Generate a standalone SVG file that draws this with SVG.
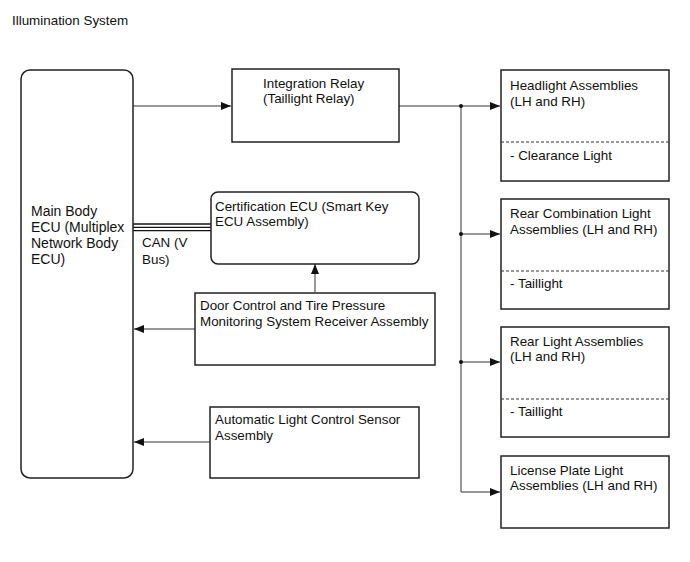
<svg xmlns="http://www.w3.org/2000/svg" width="690" height="562" viewBox="0 0 690 562">
<defs>
<style>
.box{fill:#fff;stroke:#222;stroke-width:1.5}
.t{font-family:"Liberation Sans",Arial,sans-serif;font-size:13.4px;fill:#111}
.ln{stroke:#333;stroke-width:1;fill:none}
.dash{stroke:#333;stroke-width:1;stroke-dasharray:3,2}
</style>
<marker id="ah" viewBox="0 0 10 8" refX="10" refY="4" markerWidth="10" markerHeight="8" markerUnits="userSpaceOnUse" orient="auto">
<path d="M0,0 L10,4 L0,8 z" fill="#111"/>
</marker>
</defs>
<rect width="690" height="562" fill="#fff"/>
<text class="t" x="12" y="25">Illumination System</text>
<g id="connectors">
<line class="ln" x1="133" y1="106" x2="231" y2="106" marker-end="url(#ah)"/>
<line class="ln" x1="399" y1="106" x2="500" y2="106" marker-end="url(#ah)"/>
<line class="ln" x1="461" y1="106" x2="461" y2="492"/>
<line class="ln" x1="461" y1="234" x2="500" y2="234" marker-end="url(#ah)"/>
<line class="ln" x1="461" y1="362" x2="500" y2="362" marker-end="url(#ah)"/>
<line class="ln" x1="461" y1="492" x2="500" y2="492" marker-end="url(#ah)"/>
<circle cx="461" cy="106" r="2" fill="#111"/>
<circle cx="461" cy="234" r="2" fill="#111"/>
<circle cx="461" cy="362" r="2" fill="#111"/>
<line x1="133" y1="224" x2="211" y2="224" stroke="#111" stroke-width="1.3"/>
<line x1="133" y1="227.3" x2="211" y2="227.3" stroke="#111" stroke-width="1.3"/>
<line x1="133" y1="230.6" x2="211" y2="230.6" stroke="#111" stroke-width="1.3"/>
<line class="ln" x1="315" y1="292" x2="315" y2="264" marker-end="url(#ah)"/>
<line class="ln" x1="195" y1="329" x2="134" y2="329" marker-end="url(#ah)"/>
<line class="ln" x1="210" y1="442" x2="134" y2="442" marker-end="url(#ah)"/>
<text class="t" x="142" y="247">CAN (V</text>
<text class="t" x="142" y="264">Bus)</text>
</g>
<g id="main-ecu">
<rect class="box" x="21" y="70" width="112" height="408" rx="9"/>
<text class="t" x="31" y="216" style="font-size:14px">Main Body</text>
<text class="t" x="31" y="232" style="font-size:14px">ECU (Multiplex</text>
<text class="t" x="31" y="248" style="font-size:14px">Network Body</text>
<text class="t" x="31" y="264" style="font-size:14px">ECU)</text>
</g>
<g id="integration-relay">
<rect class="box" x="232" y="69" width="167" height="73"/>
<text class="t" x="263" y="88">Integration Relay</text>
<text class="t" x="263" y="103">(Taillight Relay)</text>
</g>
<g id="certification-ecu">
<rect class="box" x="211" y="192" width="208" height="72" rx="7"/>
<text class="t" x="215" y="211">Certification ECU (Smart Key</text>
<text class="t" x="215" y="226">ECU Assembly)</text>
</g>
<g id="door-control">
<rect class="box" x="195" y="293" width="240" height="72"/>
<text class="t" x="200" y="310">Door Control and Tire Pressure</text>
<text class="t" x="200" y="326">Monitoring System Receiver Assembly</text>
</g>
<g id="auto-light-sensor">
<rect class="box" x="210" y="407" width="209" height="71"/>
<text class="t" x="215" y="424">Automatic Light Control Sensor</text>
<text class="t" x="215" y="440">Assembly</text>
</g>
<g id="headlight">
<rect class="box" x="501" y="70" width="168" height="111"/>
<line class="dash" x1="501" y1="142" x2="669" y2="142"/>
<text class="t" x="510" y="90">Headlight Assemblies</text>
<text class="t" x="510" y="106">(LH and RH)</text>
<text class="t" x="510" y="160">- Clearance Light</text>
</g>
<g id="rear-combination">
<rect class="box" x="501" y="199" width="168" height="110"/>
<line class="dash" x1="501" y1="271" x2="669" y2="271"/>
<text class="t" x="510" y="218">Rear Combination Light</text>
<text class="t" x="510" y="234">Assemblies (LH and RH)</text>
<text class="t" x="510" y="288">- Taillight</text>
</g>
<g id="rear-light">
<rect class="box" x="501" y="327" width="168" height="110"/>
<line class="dash" x1="501" y1="399" x2="669" y2="399"/>
<text class="t" x="510" y="346">Rear Light Assemblies</text>
<text class="t" x="510" y="361">(LH and RH)</text>
<text class="t" x="510" y="416">- Taillight</text>
</g>
<g id="license-plate">
<rect class="box" x="501" y="456" width="168" height="72"/>
<text class="t" x="510" y="475">License Plate Light</text>
<text class="t" x="510" y="490">Assemblies (LH and RH)</text>
</g>
</svg>
